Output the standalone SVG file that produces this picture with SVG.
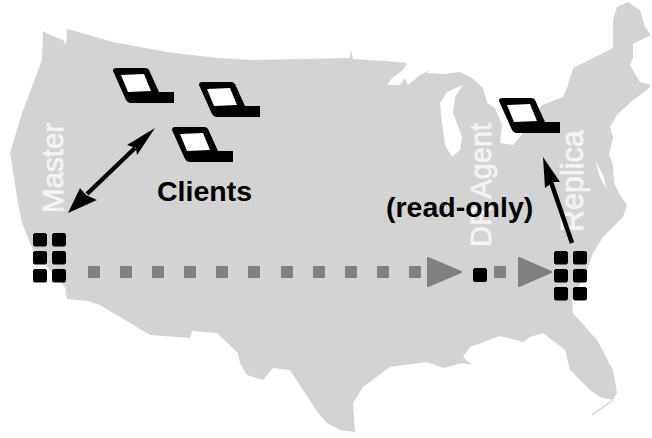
<svg xmlns="http://www.w3.org/2000/svg" width="652" height="438" viewBox="0 0 652 438">
<style>
.map{fill:#d3d3d3}
.lake{fill:#fff}
.w{font-family:"Liberation Sans",Arial,sans-serif;fill:#f4f4f4;stroke:#f4f4f4;stroke-width:0.7}
.b{font-family:"Liberation Sans",Arial,sans-serif;font-weight:bold;font-size:28.5px;fill:#000}
.s{fill:#000;stroke:#000;stroke-width:1;stroke-linejoin:round}
.d{fill:#808080}
.t{fill:#808080;stroke:#808080;stroke-width:2;stroke-linejoin:round}
.l{stroke:#000;stroke-width:4.5;fill:none}
.h{fill:#000}
</style>
<defs>
<g id="laptop">
<path d="M0,3Q0,0 3,0L32,0Q35,0 36,2L46,24L61,24L61,35L17,35Q15,35 13,32Z" fill="#000"/>
<path d="M8,7L31,6L38,23L15,24Z" fill="#fff"/>
</g>
<g id="server">
<rect class="s" x="0.5" y="0.5" width="13" height="12.5" rx="1.5"/>
<rect class="s" x="19.5" y="0.5" width="13" height="12.5" rx="1.5"/>
<rect class="s" x="0.5" y="18.5" width="13" height="12.5" rx="1.5"/>
<rect class="s" x="19.5" y="18.5" width="13" height="12.5" rx="1.5"/>
<rect class="s" x="0.5" y="36.5" width="13" height="12.5" rx="1.5"/>
<rect class="s" x="19.5" y="36.5" width="13" height="12.5" rx="1.5"/>
</g>
</defs>
<g id="map">
<path class="map" d="M43,31L50,35L63,40L66,45L67,30L68,29L113,42L167,52L217,58L253,60L350,58L351,50L353,59L385,61L407,63L403,70L392,78L387,85L400,85L405,78L408,85L420,75L430,70L427,73L443,74L460,72L472,78L483,88L487,103L495,108L502,125L500,143L513,145L523,133L530,125L542,105L563,97L567,88L573,68L593,58L613,48L613,20L617,7L628,2L640,10L645,27L651,35L633,44L633,58L630,65L640,82L651,85L647,90L633,100L617,115L610,127L613,137L609,155L613,165L614,183L620,195L627,205L623,217L603,237L593,253L587,270L572,300L573,313L597,340L613,370L617,393L613,400L600,397L590,390L570,370L565,350L543,333L530,337L523,342L500,336L470,347L463,357L472,365L463,363L443,368L427,362L390,367L363,387L353,403L355,432L340,430L327,423L318,413L303,390L290,370L273,368L263,380L247,375L240,363L238,353L217,333L192,331L190,338L150,335L100,305L88,301L67,299L65,287L50,270L33,250L22,223L18,203L10,153L22,113L42,60Z"/>
<path class="lake" d="M440,103L447,92L463,85L455,97L453,113L462,137L460,150L452,157L445,145L442,123Z"/>
<path class="lake" d="M595,160L600,177L607,190L603,175Z"/>
<path d="M613,400L592,415" stroke="#d3d3d3" stroke-width="1.5" fill="none"/>
</g>
<g id="master">
<text class="w" font-size="29.5" transform="translate(63,213) rotate(-90)">Master</text>
<use href="#server" x="33" y="233"/>
</g>
<g id="dr-agent">
<text class="w" font-size="29" transform="translate(491,247) rotate(-90)">DR Agent</text>
<rect class="s" x="473.5" y="268.5" width="13" height="13" rx="1.5"/>
</g>
<g id="replica">
<text class="w" font-size="30.5" transform="translate(583,232) rotate(-90)">Replica</text>
<use href="#server" x="554" y="251"/>
</g>
<g id="client-1"><use href="#laptop" x="113" y="68"/></g>
<g id="client-2"><use href="#laptop" x="199" y="82"/></g>
<g id="client-3"><use href="#laptop" x="172" y="127"/></g>
<g id="client-4"><use href="#laptop" x="499" y="98"/></g>
<g id="connectors">
<g id="replication">
<rect class="d" x="88" y="266" width="12" height="12"/>
<rect class="d" x="120" y="266" width="12" height="12"/>
<rect class="d" x="152" y="266" width="12" height="12"/>
<rect class="d" x="184" y="266" width="12" height="12"/>
<rect class="d" x="216" y="266" width="12" height="12"/>
<rect class="d" x="248" y="266" width="12" height="12"/>
<rect class="d" x="281" y="266" width="12" height="12"/>
<rect class="d" x="313" y="266" width="12" height="12"/>
<rect class="d" x="345" y="266" width="12" height="12"/>
<rect class="d" x="377" y="266" width="12" height="12"/>
<rect class="d" x="409" y="266" width="12" height="12"/>
<path class="t" d="M428,258L461,272L428,286Z"/>
<rect class="d" x="494" y="266" width="12" height="12"/>
<path class="t" d="M519,258L551,272L519,286Z"/>
</g>
<path class="l" d="M87,194L135,148"/>
<path class="h" d="M68,213L80,188L86,195L97,200Z"/>
<path class="h" d="M155,128L127,145L136,148L137,155Z"/>
<path class="l" d="M572,243L551,182"/>
<path class="h" d="M543,157L545,188L553,182L560,182Z"/>
</g>
<g id="clients-label"><text class="b" x="157" y="201">Clients</text></g>
<g id="read-only-label"><text class="b" x="386" y="217">(read-only)</text></g>
</svg>
